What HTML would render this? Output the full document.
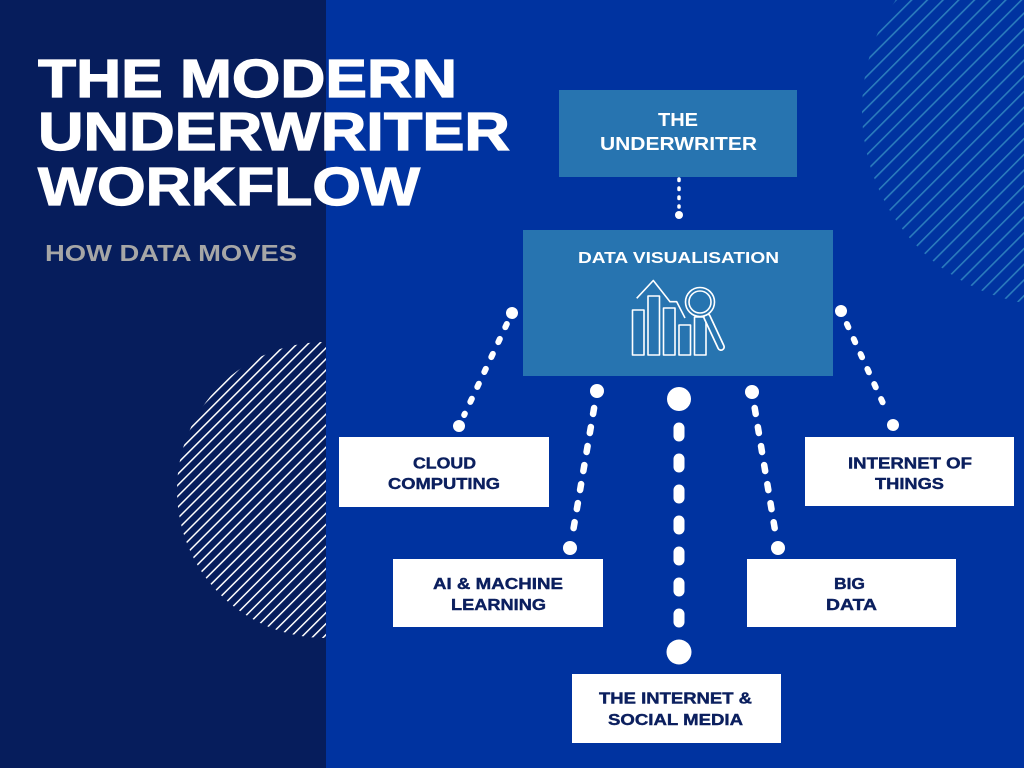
<!DOCTYPE html>
<html><head><meta charset="utf-8"><style>
html,body{margin:0;padding:0;width:1024px;height:768px;overflow:hidden;background:#0033a0}
svg{display:block}
text{font-family:"Liberation Sans",Arial,sans-serif;font-weight:bold}
</style></head><body>
<svg width="1024" height="768" viewBox="0 0 1024 768" xmlns="http://www.w3.org/2000/svg">
<defs>
<pattern id="pw" patternUnits="userSpaceOnUse" width="7.8" height="7.8" patternTransform="rotate(45)">
<rect x="0" y="0" width="1.5" height="7.8" fill="#ffffff"/>
</pattern>
<pattern id="pb" patternUnits="userSpaceOnUse" width="11.1" height="11.1" patternTransform="rotate(45)">
<rect x="0" y="0" width="1.6" height="11.1" fill="#2b7cbd"/>
</pattern>
<clipPath id="leftc"><rect x="0" y="0" width="326" height="768"/></clipPath>
</defs>
<rect x="0" y="0" width="1024" height="768" fill="#0033a0"/>
<rect x="0" y="0" width="326" height="768" fill="#061d5c"/>
<circle cx="325" cy="490" r="148" fill="url(#pw)" clip-path="url(#leftc)"/>
<circle cx="1058" cy="110" r="196" fill="url(#pb)"/>

<!-- title -->
<g fill="#fff" stroke="#fff" stroke-width="1.2">
<text x="38" y="97" font-size="54" textLength="419" lengthAdjust="spacingAndGlyphs">THE MODERN</text>
<text x="38" y="150" font-size="54" textLength="472" lengthAdjust="spacingAndGlyphs">UNDERWRITER</text>
<text x="38" y="205" font-size="54" textLength="382" lengthAdjust="spacingAndGlyphs">WORKFLOW</text>
</g>
<text x="45" y="261" font-size="23" fill="#a6a6a6" textLength="252" lengthAdjust="spacingAndGlyphs">HOW DATA MOVES</text>

<!-- underwriter box -->
<rect x="559" y="90" width="238" height="87" fill="#2774b0"/>
<text x="658" y="126" font-size="18" fill="#fff" textLength="40" lengthAdjust="spacingAndGlyphs">THE</text>
<text x="600" y="150" font-size="18" fill="#fff" textLength="157" lengthAdjust="spacingAndGlyphs">UNDERWRITER</text>
<line x1="679" y1="179" x2="679" y2="207" stroke="#fff" stroke-width="3.5" stroke-linecap="round" stroke-dasharray="1.5 7.5"/>
<circle cx="679" cy="215" r="4" fill="#fff"/>

<!-- data visualisation box -->
<rect x="523" y="230" width="310" height="146" fill="#2774b0"/>
<text x="578" y="263" font-size="16" fill="#fff" textLength="201" lengthAdjust="spacingAndGlyphs">DATA VISUALISATION</text>
<g fill="none" stroke="#fff" stroke-width="1.6" stroke-linejoin="round">
<rect x="632.5" y="310" width="11.5" height="45"/>
<rect x="648" y="296" width="11.5" height="59"/>
<rect x="663.5" y="308" width="11.5" height="47"/>
<rect x="679" y="325" width="11.5" height="30"/>
<rect x="694.5" y="317" width="11.5" height="38"/>
<polyline points="636.7,298.3 653.3,280.5 670,301.7 676.7,301.7 685,318"/>
</g>
<line x1="707" y1="317" x2="721" y2="347" stroke="#fff" stroke-width="8" stroke-linecap="round"/>
<line x1="707" y1="317" x2="721" y2="347" stroke="#2774b0" stroke-width="4.6" stroke-linecap="round"/>
<circle cx="700" cy="302" r="14.5" fill="#2774b0" stroke="#fff" stroke-width="1.6"/>
<circle cx="700" cy="302" r="11" fill="none" stroke="#fff" stroke-width="1.6"/>

<!-- connectors -->
<g stroke="#fff" stroke-linecap="round" fill="none">
<line x1="506.8" y1="324" x2="464.2" y2="415" stroke-width="6" stroke-dasharray="3.5 13"/>
<line x1="594.1" y1="408" x2="573.1" y2="531" stroke-width="6.5" stroke-dasharray="6 13.3"/>
<line x1="679" y1="428" x2="679" y2="622" stroke-width="11" stroke-dasharray="8 23"/>
<line x1="754.7" y1="408" x2="775.3" y2="532" stroke-width="6.5" stroke-dasharray="6 13.3"/>
<line x1="846.9" y1="324" x2="887.5" y2="413" stroke-width="6" stroke-dasharray="3.5 13"/>
</g>
<g fill="#fff">
<circle cx="512" cy="313" r="6"/><circle cx="459" cy="426" r="6"/>
<circle cx="597" cy="391" r="7"/><circle cx="570" cy="548" r="7"/>
<circle cx="679" cy="399" r="12"/><circle cx="679" cy="652" r="12.5"/>
<circle cx="752" cy="392" r="7"/><circle cx="778" cy="548" r="7"/>
<circle cx="841" cy="311" r="6"/><circle cx="893" cy="425" r="6"/>
</g>

<!-- white boxes -->
<g fill="#fff">
<rect x="339" y="437" width="210" height="70"/>
<rect x="393" y="559" width="210" height="68"/>
<rect x="805" y="437" width="209" height="69"/>
<rect x="747" y="559" width="209" height="68"/>
<rect x="572" y="674" width="209" height="69"/>
</g>
<g fill="#0b1f5e" stroke="#0b1f5e" stroke-width="0.4" font-size="15.5">
<text x="413" y="468.5" textLength="63" lengthAdjust="spacingAndGlyphs">CLOUD</text>
<text x="388" y="489" textLength="112" lengthAdjust="spacingAndGlyphs">COMPUTING</text>
<text x="433" y="589" textLength="130" lengthAdjust="spacingAndGlyphs">AI &amp; MACHINE</text>
<text x="451" y="610" textLength="95" lengthAdjust="spacingAndGlyphs">LEARNING</text>
<text x="848" y="468.5" textLength="124" lengthAdjust="spacingAndGlyphs">INTERNET OF</text>
<text x="875" y="489" textLength="69" lengthAdjust="spacingAndGlyphs">THINGS</text>
<text x="834" y="589" textLength="31" lengthAdjust="spacingAndGlyphs">BIG</text>
<text x="826" y="610" textLength="51" lengthAdjust="spacingAndGlyphs">DATA</text>
<text x="599" y="703.5" textLength="153" lengthAdjust="spacingAndGlyphs">THE INTERNET &amp;</text>
<text x="608" y="725" textLength="135" lengthAdjust="spacingAndGlyphs">SOCIAL MEDIA</text>
</g>
</svg>
</body></html>
